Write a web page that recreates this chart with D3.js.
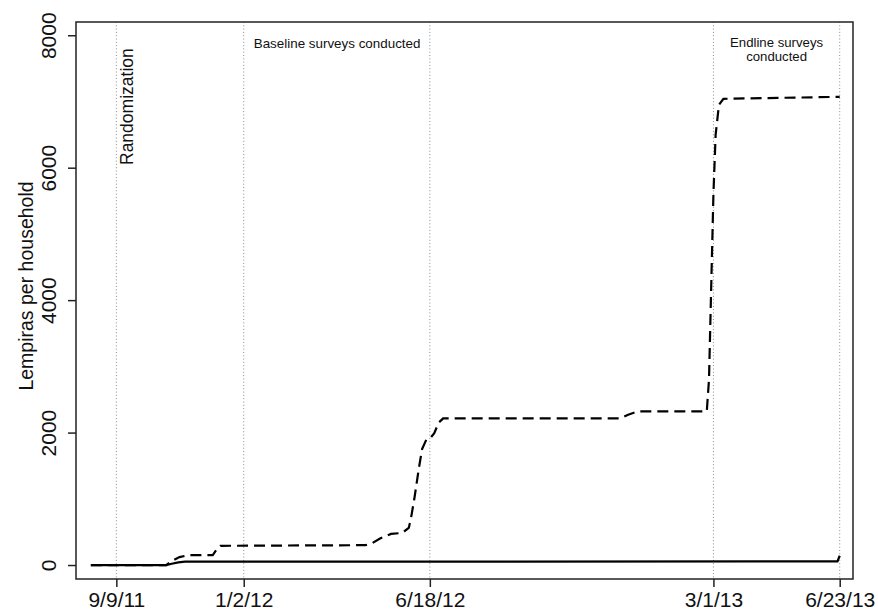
<!DOCTYPE html>
<html>
<head>
<meta charset="utf-8">
<script src="https://cdn.jsdelivr.net/npm/d3@7"></script>
<style>
  body { margin: 0; background: #fff; }
  text { font-family: "Liberation Sans", Arial, Helvetica, sans-serif; fill: #111; }
</style>
</head>
<body>
<div id="chart"></div>
<script>
// cumulative lempiras per household, two series
var dashDates = ["2011-08-17","2011-10-24","2011-10-29","2011-11-05","2011-11-13","2011-12-05","2011-12-08","2011-12-12",
  "2012-04-21","2012-04-27","2012-05-04","2012-05-14","2012-05-24","2012-05-30","2012-06-01","2012-06-04","2012-06-08",
  "2012-06-11","2012-06-15","2012-06-19","2012-06-22","2012-06-26","2012-06-30","2012-12-07","2012-12-14","2012-12-23",
  "2013-02-23","2013-02-25","2013-02-27","2013-03-01","2013-03-03","2013-03-06","2013-03-10","2013-06-23"];
var dashValues = [0,0,60,120,150,150,220,290,
  300,330,400,470,485,560,710,1000,1450,
  1750,1900,1930,1990,2150,2215,2215,2270,2320,
  2320,2800,4200,5600,6500,6950,7040,7070];

var solidDates = ["2011-08-17","2011-10-24","2011-10-29","2011-11-04","2011-11-10","2013-06-21","2013-06-23"];
var solidValues = [0,0,20,40,50,55,140];

var markerDates = ["2011-09-09","2012-01-02","2012-06-18","2013-03-01","2013-06-23"];
var yTicks = [0,2000,4000,6000,8000];

var parse = d3.timeParse("%Y-%m-%d");

var margin = {top: 22, right: 25, bottom: 34, left: 76},
    width = 878 - margin.left - margin.right,
    height = 613 - margin.top - margin.bottom;

var svg = d3.select("#chart")
  .append("svg")
  .attr("width", 878)
  .attr("height", 613)
  .append("g")
  .attr("transform", "translate(" + margin.left + "," + margin.top + ")");

var x = d3.scaleTime()
  .domain([new Date(2011, 7, 3, 14), new Date(2013, 6, 5)])
  .range([0, width]);

var y = d3.scaleLinear()
  .domain([-211, 8200])
  .range([height, 0]);

// dotted markers
svg.selectAll(".marker")
  .data(markerDates)
  .enter()
  .append("line")
  .attr("class", "marker")
  .attr("x1", function(d){ return x(parse(d)); })
  .attr("x2", function(d){ return x(parse(d)); })
  .attr("y1", 0)
  .attr("y2", height)
  .attr("stroke", "#8a8a8a")
  .attr("stroke-width", 1)
  .attr("stroke-dasharray", "1,2.3");

function combine(dates, vals){
  var out = [];
  for(var i = 0; i < dates.length; i++){
    out.push([x(parse(dates[i])), y(vals[i])]);
  }
  return out;
}

svg.append("path")
  .attr("d", d3.line()(combine(solidDates, solidValues)))
  .attr("fill", "none")
  .attr("stroke", "#000")
  .attr("stroke-width", 2.2);

svg.append("path")
  .attr("d", d3.line()(combine(dashDates, dashValues)))
  .attr("fill", "none")
  .attr("stroke", "#000")
  .attr("stroke-width", 2.2)
  .attr("stroke-dasharray", "11,6");

// box
svg.append("rect")
  .attr("x", 0).attr("y", 0)
  .attr("width", width).attr("height", height)
  .attr("fill", "none")
  .attr("stroke", "#222")
  .attr("stroke-width", 1.5);

// x axis
var xAxis = svg.append("g")
  .attr("transform", "translate(0," + height + ")")
  .call(d3.axisBottom(x)
    .tickValues(markerDates.map(parse))
    .tickFormat(d3.timeFormat("%-m/%-d/%y"))
    .tickSize(8)
    .tickPadding(5));
xAxis.select(".domain").remove();
xAxis.selectAll("line").attr("stroke", "#222").attr("stroke-width", 1.5);
xAxis.selectAll("text").attr("font-size", "21px").attr("font-family", null).attr("fill", "#111");

// y axis, labels turned like base R
var yAxis = svg.append("g")
  .call(d3.axisLeft(y).tickValues(yTicks).tickFormat(d3.format("d")).tickSize(8));
yAxis.select(".domain").remove();
yAxis.selectAll("line").attr("stroke", "#222").attr("stroke-width", 1.5);
yAxis.selectAll("text")
  .attr("font-size", "21px")
  .attr("font-family", null)
  .attr("fill", "#111")
  .attr("x", 0)
  .attr("y", -20)
  .attr("dy", null)
  .attr("text-anchor", "middle")
  .attr("transform", "rotate(-90)");

svg.append("text")
  .attr("transform", "translate(" + (33 - margin.left) + "," + (286 - margin.top) + ") rotate(-90)")
  .attr("text-anchor", "middle")
  .attr("font-size", "19.5px")
  .text("Lempiras per household");

// annotations
svg.append("text")
  .attr("transform", "translate(" + (x(parse(markerDates[0])) + 17) + "," + (165 - margin.top) + ") rotate(-90)")
  .attr("font-size", "17.5px")
  .text("Randomization");

svg.append("text")
  .attr("x", x(parse(markerDates[1])) + 10)
  .attr("y", 48 - margin.top)
  .attr("font-size", "13.4px")
  .text("Baseline surveys conducted");

var endMid = (x(parse(markerDates[3])) + x(parse(markerDates[4]))) / 2;
svg.append("text")
  .attr("x", endMid)
  .attr("y", 47 - margin.top)
  .attr("text-anchor", "middle")
  .attr("font-size", "13.2px")
  .text("Endline surveys");
svg.append("text")
  .attr("x", endMid)
  .attr("y", 61 - margin.top)
  .attr("text-anchor", "middle")
  .attr("font-size", "13.2px")
  .text("conducted");
</script>
</body>
</html>
